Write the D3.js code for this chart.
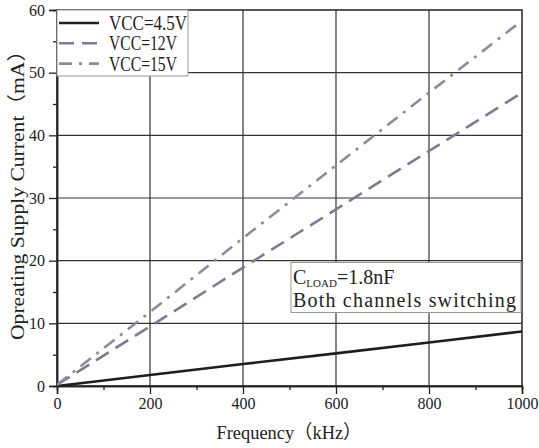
<!DOCTYPE html>
<html><head><meta charset="utf-8">
<script src="https://cdn.jsdelivr.net/npm/d3@7"></script>
<style>body{margin:0;background:#fff}text{font-family:"Liberation Serif","DejaVu Serif","Noto Sans CJK SC",serif;fill:#222}</style>
</head><body><svg id="c" width="539" height="448"></svg>
<script>
const freq = [0, 200, 400, 600, 800, 1000];
const vcc45 = [0, 1.75, 3.5, 5.2, 6.95, 8.7];
const vcc12 = [0.2, 9.5, 18.9, 28.2, 37.5, 46.8];
const vcc15 = [0.2, 11.8, 23.6, 35.2, 46.8, 58.3];
const seriesNames = ["VCC=4.5V", "VCC=12V", "VCC=15V"];
const xTicks = [0, 200, 400, 600, 800, 1000];
const yTicks = [0, 10, 20, 30, 40, 50, 60];

const svg = d3.select("#c");
const L = 57, R = 522, T = 10, B = 386;
const x = d3.scaleLinear().domain([0, 1000]).range([L, R]);
const y = d3.scaleLinear().domain([0, 60]).range([B, T]);

// grid
const g = svg.append("g");
g.selectAll(".vg").data(xTicks.slice(1, -1)).join("line")
  .attr("x1", d => x(d)).attr("x2", d => x(d)).attr("y1", T).attr("y2", B)
  .attr("stroke", "#333").attr("stroke-width", 1.2);
g.selectAll(".hg").data(yTicks.slice(1, -1)).join("line")
  .attr("y1", d => y(d)).attr("y2", d => y(d)).attr("x1", L).attr("x2", R)
  .attr("stroke", "#333").attr("stroke-width", 1.2);
// frame
svg.append("rect").attr("x", L).attr("y", T).attr("width", R - L).attr("height", B - T)
  .attr("fill", "none").attr("stroke", "#222").attr("stroke-width", 1.5);

// axes
const xAxis = d3.axisBottom(x).tickValues(xTicks).tickSize(8).tickPadding(4).tickFormat(d3.format("d"));
const xa = svg.append("g").attr("transform", `translate(0,${B})`).call(xAxis);
const xMinor = svg.append("g").attr("transform", `translate(0,${B})`)
  .call(d3.axisBottom(x).tickValues(d3.range(100, 1000, 200)).tickSize(4).tickFormat(""));
const yAxis = d3.axisLeft(y).tickValues(yTicks).tickSize(8).tickPadding(4);
const ya = svg.append("g").attr("transform", `translate(${L},0)`).call(yAxis);
const yMinor = svg.append("g").attr("transform", `translate(${L},0)`)
  .call(d3.axisLeft(y).tickValues(d3.range(5, 60, 10)).tickSize(4).tickFormat(""));
[xa, ya, xMinor, yMinor].forEach(a => {
  a.select(".domain").attr("stroke", "#222").attr("stroke-width", 1.5);
  a.selectAll(".tick line").attr("stroke", "#222").attr("stroke-width", 1.3);
  a.selectAll("text").attr("font-size", 16).attr("fill", "#333")
    .style("font-family", '"Liberation Serif",serif');
});

// axis titles
svg.append("text").attr("x", 289).attr("y", 439).attr("text-anchor", "middle")
  .attr("font-size", 19).attr("textLength", 145).attr("lengthAdjust", "spacingAndGlyphs")
  .text("Frequency\uFF08kHz\uFF09");
svg.append("text").attr("transform", "translate(24,190) rotate(-90)").attr("text-anchor", "middle")
  .attr("font-size", 19).attr("textLength", 300).attr("lengthAdjust", "spacingAndGlyphs")
  .text("Opreating Supply Current\uFF08mA\uFF09");

// lines
const styles = [
  {c: "#1e1e1e", dash: null},
  {c: "#7b7d8f", dash: "15,8"},
  {c: "#8a8c9c", dash: "13,7,3,7"}
];
const data = [vcc45, vcc12, vcc15];
const line = d3.line().x((d, i) => x(freq[i])).y(d => y(d));
svg.append("clipPath").attr("id", "clp").append("rect")
  .attr("x", L).attr("y", T).attr("width", R - L).attr("height", B - T);
data.forEach((s, k) => {
  svg.append("path").datum(s).attr("d", line).attr("fill", "none")
    .attr("stroke", styles[k].c).attr("stroke-width", 2.6)
    .attr("stroke-dasharray", styles[k].dash).attr("clip-path", "url(#clp)");
});

// legend
const lg = svg.append("g");
lg.append("rect").attr("x", L).attr("y", T).attr("width", 131).attr("height", 66)
  .attr("fill", "#fff").attr("stroke", "#999").attr("stroke-width", 1);
seriesNames.forEach((n, k) => {
  const yy = 23 + k * 20.3;
  lg.append("line").attr("x1", 59).attr("x2", 99).attr("y1", yy).attr("y2", yy)
    .attr("stroke", styles[k].c).attr("stroke-width", 2.6).attr("stroke-dasharray", styles[k].dash);
  lg.append("text").attr("x", 109).attr("y", yy + 7).attr("font-size", 20)
    .attr("textLength", k === 0 ? 78 : 68).attr("lengthAdjust", "spacingAndGlyphs").text(n);
});

// annotation
const an = svg.append("g");
an.append("rect").attr("x", 291).attr("y", 262.5).attr("width", 230).attr("height", 50)
  .attr("fill", "#fff").attr("stroke", "#999").attr("stroke-width", 1);
const t1 = an.append("text").attr("x", 293).attr("y", 284).attr("font-size", 20);
t1.append("tspan").text("C");
t1.append("tspan").attr("font-size", 11).attr("dy", 3).text("LOAD");
t1.append("tspan").attr("dy", -3).text("=1.8nF");
an.append("text").attr("x", 293).attr("y", 307).attr("font-size", 20)
  .attr("textLength", 223).attr("lengthAdjust", "spacing").text("Both channels switching");
</script></body></html>
